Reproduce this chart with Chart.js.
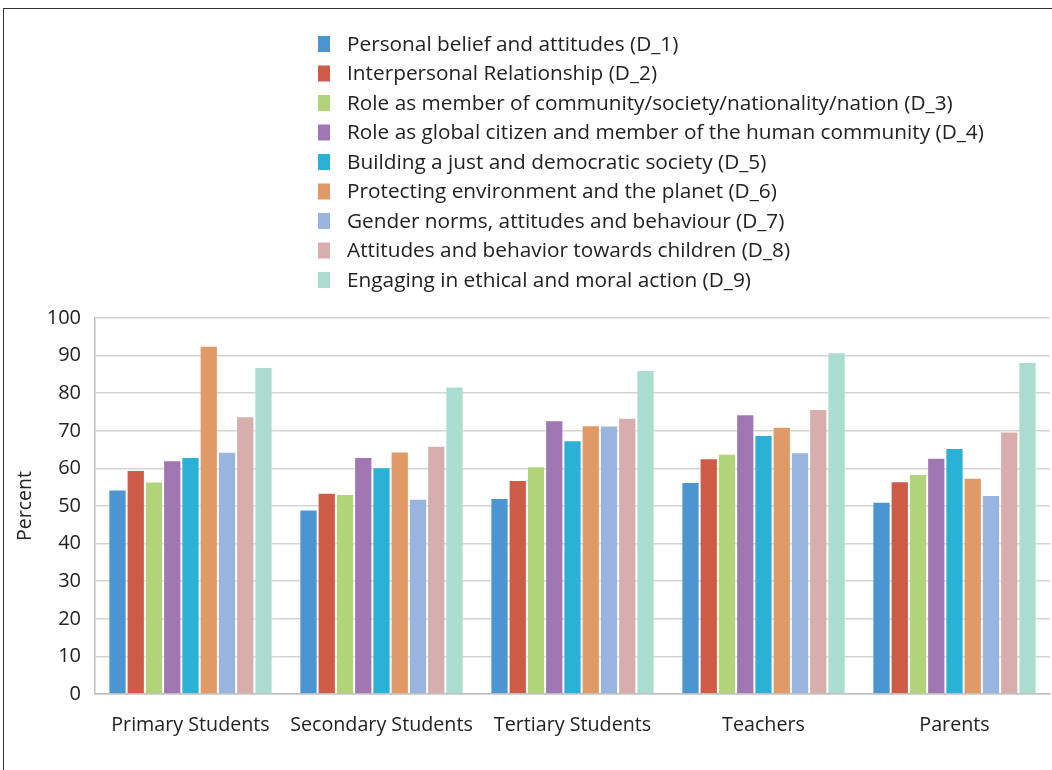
<!DOCTYPE html>
<html>
<head>
<meta charset="utf-8">
<script src="https://cdn.jsdelivr.net/npm/chart.js@4/dist/chart.umd.min.js"></script>
<style>
  html, body { margin: 0; padding: 0; background: #fff; overflow: hidden; }
  #wrap { position: relative; width: 1052px; height: 770px; }
  #frame { position: absolute; left: 3px; top: 8px; width: 1100px; height: 800px; border: 1.5px solid #333; box-sizing: border-box; }
  #chart { position: absolute; left: 0; top: 0; }
</style>
</head>
<body>
<div id="wrap">
  <div id="frame"></div>
  <canvas id="chart" width="1052" height="770"></canvas>
</div>
<script>
// Grupos encuestados
const grupos = ["Primary Students", "Secondary Students", "Tertiary Students", "Teachers", "Parents"];

// Dimensiones (una serie por dimensión)
const dimensiones = [
    "Personal belief and attitudes (D_1)",
    "Interpersonal Relationship (D_2)",
    "Role as member of community/society/nationality/nation (D_3)",
    "Role as global citizen and member of the human community (D_4)",
    "Building a just and democratic society (D_5)",
    "Protecting environment and the planet (D_6)",
    "Gender norms, attitudes and behaviour (D_7)",
    "Attitudes and behavior towards children (D_8)",
    "Engaging in ethical and moral action (D_9)"
];

// Porcentajes por dimensión, en el orden de los grupos
const d1 = [54.4, 49.1, 52.1, 56.4, 51.1];
const d2 = [59.6, 53.5, 56.9, 62.7, 56.6];
const d3 = [56.5, 53.2, 60.6, 63.9, 58.5];
const d4 = [62.2, 63.0, 72.8, 74.4, 62.8];
const d5 = [63.0, 60.3, 67.5, 68.9, 65.4];
const d6 = [92.6, 64.5, 71.5, 71.1, 57.5];
const d7 = [64.4, 51.9, 71.4, 64.3, 52.9];
const d8 = [73.9, 66.0, 73.5, 75.8, 69.8];
const d9 = [87.0, 81.8, 86.2, 90.9, 88.3];

const yTicks = [0, 10, 20, 30, 40, 50, 60, 70, 80, 90, 100];

const colores = ['#4b96d1', '#cd5b46', '#b1d47a', '#a077b3', '#2bb0d6', '#e09a66', '#97b5de', '#d8aeac', '#aadccf'];

const series = [d1, d2, d3, d4, d5, d6, d7, d8, d9];
const FONT = '"Open Sans", Lato, sans-serif';

// Leyenda en una sola columna sobre el gráfico
const leyendaColumna = {
    id: 'leyendaColumna',
    afterDraw(chart) {
        const ctx = chart.ctx;
        ctx.save();
        ctx.font = '20.8px ' + FONT;
        ctx.textBaseline = 'middle';
        chart.data.datasets.forEach((ds, i) => {
            const y = 44 + i * 29.5;
            ctx.fillStyle = ds.backgroundColor;
            ctx.fillRect(318, y - 8, 12, 16);
            ctx.fillStyle = '#222';
            ctx.fillText(ds.label, 347, y + 1);
        });
        ctx.restore();
    }
};

new Chart(document.getElementById('chart'), {
    type: 'bar',
    data: {
        labels: grupos,
        datasets: series.map((valores, i) => ({
            label: dimensiones[i],
            data: valores,
            backgroundColor: colores[i],
            borderColor: 'rgba(255,255,255,0.35)',
            borderWidth: 1,
            barPercentage: 1,
            categoryPercentage: 0.86
        }))
    },
    options: {
        responsive: false,
        animation: false,
        layout: { padding: { top: 318, right: 2, left: 0, bottom: 0 } },
        plugins: {
            legend: { display: false },
            tooltip: { enabled: false }
        },
        scales: {
            x: {
                grid: { display: false, drawTicks: false },
                border: { color: '#bfbfbf', width: 1.5 },
                ticks: { color: '#222', font: { family: FONT, size: 19.7 }, padding: 20 },
                afterFit(scale) { scale.height = 76; }
            },
            y: {
                min: 0,
                max: 100,
                afterBuildTicks(scale) { scale.ticks = yTicks.map(v => ({ value: v })); },
                grid: { color: '#d4d4d4', lineWidth: 1.5, drawTicks: false },
                border: { color: '#bfbfbf', width: 1.5 },
                ticks: { color: '#222', font: { family: FONT, size: 20 }, padding: 14 },
                title: { display: true, text: 'Percent', color: '#222', font: { family: FONT, size: 19.5 }, padding: { top: 14, bottom: 0 } },
                afterFit(scale) { scale.width = 95; }
            }
        }
    },
    plugins: [leyendaColumna]
});
</script>
</body>
</html>
